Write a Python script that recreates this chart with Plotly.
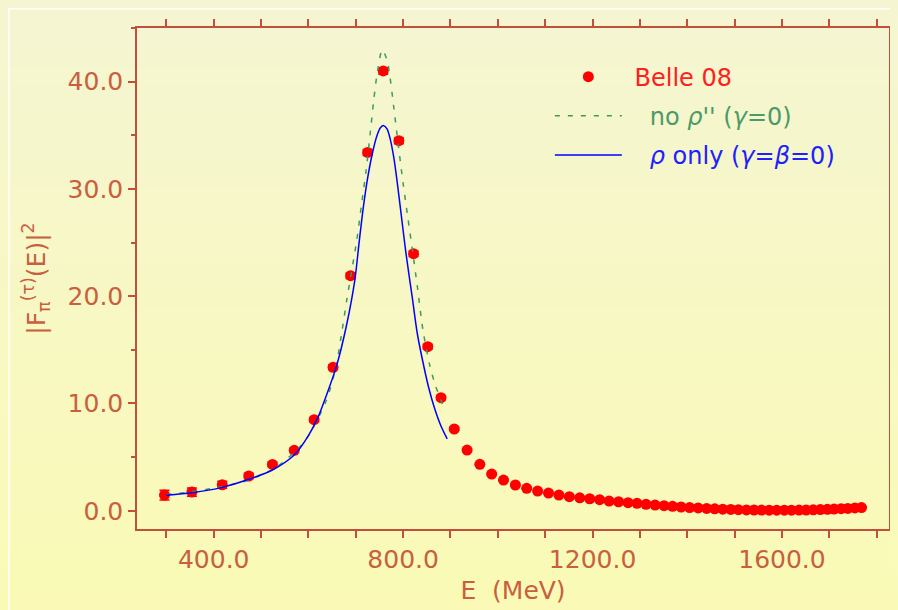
import plotly.graph_objects as go

# ---------------- data ----------------
belle_E = [296, 354, 418, 474, 524, 570, 612, 652, 689, 725, 758, 791, 822, 852,
           880, 908, 935, 962, 987, 1012, 1037, 1061, 1084, 1107, 1129, 1151, 1173,
           1194, 1215, 1235, 1255, 1275, 1294, 1313, 1332, 1351, 1369, 1387, 1405,
           1423, 1441, 1458, 1475, 1492, 1508, 1525, 1541, 1557, 1573, 1589, 1605,
           1620, 1636, 1651, 1666, 1681, 1696, 1710, 1725, 1739, 1754, 1768]
belle_F2 = [1.46, 1.74, 2.42, 3.24, 4.32, 5.63, 8.49, 13.37, 21.91, 33.4, 41.0, 34.5,
            23.96, 15.29, 10.54, 7.62, 5.66, 4.33, 3.42, 2.86, 2.40, 2.09, 1.84, 1.65,
            1.46, 1.31, 1.21, 1.12, 1.03, 0.90, 0.84, 0.75, 0.69, 0.60, 0.53, 0.47,
            0.41, 0.35, 0.30, 0.26, 0.22, 0.18, 0.15, 0.12, 0.10, 0.08, 0.07, 0.06,
            0.05, 0.05, 0.05, 0.05, 0.06, 0.07, 0.09, 0.11, 0.13, 0.16, 0.19, 0.22,
            0.26, 0.30]
belle_err = [0.45, 0.38, 0.32, 0.25, 0.2, 0.2, 0.2, 0.22, 0.25, 0.28, 0.3, 0.28, 0.25,
             0.22, 0.2, 0.15, 0.12, 0.1, 0.08, 0.07, 0.06, 0.05, 0.05, 0.05, 0.04,
             0.04, 0.04, 0.04, 0.03, 0.03, 0.03, 0.03, 0.03, 0.03, 0.03, 0.03, 0.03,
             0.03, 0.03, 0.03, 0.03, 0.03, 0.03, 0.03, 0.03, 0.03, 0.03, 0.03, 0.03,
             0.03, 0.03, 0.03, 0.03, 0.03, 0.03, 0.03, 0.03, 0.03, 0.03, 0.03, 0.03,
             0.03]

norho2_E = [300, 354, 418, 477, 533, 582, 603, 638, 658, 670, 681, 688, 702, 712,
            722, 730, 738, 746, 756, 766, 772, 780, 790, 800, 810, 820, 830, 842,
            856, 868, 880, 887]
norho2_F2 = [1.5, 1.78, 2.25, 2.9, 4.1, 5.97, 7.2, 10.3, 13.4, 16.5, 19.65, 21.5,
             25.2, 28.5, 31.8, 35.0, 38.3, 41.0, 42.96, 42.0, 40.5, 37.7, 34.0, 30.5,
             27.3, 24.2, 20.9, 16.8, 13.6, 11.7, 10.3, 9.4]

rhoonly_E = [300, 354, 418, 474, 524, 570, 600, 620, 640, 660, 680, 698, 707, 716,
             725, 735, 745, 752, 759, 766, 773, 780, 787, 794, 806, 820, 830, 844,
             855, 866, 879, 893]
rhoonly_F2 = [1.45, 1.68, 2.18, 2.93, 3.80, 5.19, 7.0, 8.7, 11.0, 13.6, 17.2, 21.5,
              25.0, 28.3, 31.0, 33.3, 35.0, 35.7, 35.9, 35.6, 34.6, 33.0, 30.8,
              28.3, 24.0, 19.65, 16.5, 13.4, 11.3, 9.6, 8.0, 6.7]

x_range = [238, 1826]
y_range = [-1.7, 45.0]

# ---------------- styling ----------------
AXC = "#c0503c"
TXC = "#c8603f"
FONT = "DejaVu Sans"

fig = go.Figure()

fig.add_trace(go.Scatter(
    x=belle_E, y=belle_F2, mode="markers",
    error_y=dict(type="data", array=belle_err, color="#ff0000", thickness=1.5, width=5),
    marker=dict(color="#ff0000", size=11),
    name="<span style='color:#ff2020'> Belle 08</span>",
    legendgroup="a",
))
fig.add_trace(go.Scatter(
    x=norho2_E, y=norho2_F2, mode="lines",
    line=dict(color="#3c9a60", width=1.5, dash="5px,8px", shape="spline", smoothing=0.8),
    name="<span style='color:#4a9a6a'>   no <i>ρ</i>'' (<i>γ</i>=0)</span>",
    legendgroup="b",
))
fig.add_trace(go.Scatter(
    x=rhoonly_E, y=rhoonly_F2, mode="lines",
    line=dict(color="#0000ff", width=1.5, shape="spline", smoothing=0.8),
    name="<span style='color:#2020ff'>   <i>ρ</i> only (<i>γ</i>=<i>β</i>=0)</span>",
    legendgroup="c",
))

# figure sits at an 8px page offset -> 890x602 figure fills the 898x610 window
W, H = 890, 602
ml, mr, mt, mb = 129, 9, 20, 81
pw, ph = W - ml - mr, H - mt - mb
TOP = (245, 245, 210)
BOT = (250, 250, 182)
shapes = []
nb = 40
for i in range(nb):
    f = i / (nb - 1)
    c = tuple(round(TOP[k] + (BOT[k] - TOP[k]) * f) for k in range(3))
    y1 = 1 + mt / ph - i * (H / ph) / nb
    y0 = y1 - (H / ph) / nb - 0.002
    shapes.append(dict(type="rect", xref="paper", yref="paper",
                       x0=-ml / pw - 0.01, x1=1 + mr / pw + 0.01, y0=y0, y1=y1,
                       fillcolor="rgb(%d,%d,%d)" % c, line=dict(width=0), layer="below"))
# white frame
shapes.append(dict(type="rect", xref="paper", yref="paper",
                   x0=(1 - ml) / pw, x1=1 + (mr + 20) / pw,
                   y0=-(mb + 20) / ph, y1=1 + (mt - 0.75) / ph,
                   line=dict(color="rgba(255,255,255,0.95)", width=1.5),
                   fillcolor="rgba(0,0,0,0)", layer="below"))

fig.update_layout(
    width=W, height=H,
    margin=dict(l=ml, r=mr, t=mt, b=mb, autoexpand=False),
    paper_bgcolor="#f7f7c8",
    plot_bgcolor="rgba(0,0,0,0)",
    shapes=shapes,
    font=dict(family=FONT, color=TXC),
    showlegend=True,
    legend=dict(x=0.549, y=0.947, xanchor="left", yanchor="top",
                bgcolor="rgba(0,0,0,0)", borderwidth=0,
                font=dict(family=FONT, size=24),
                itemwidth=67, tracegroupgap=5),
)

fig.update_xaxes(
    range=x_range, showgrid=False, zeroline=False,
    showline=True, linecolor=AXC, linewidth=1.5, mirror="ticks",
    ticks="outside", ticklen=7, tickwidth=1.5, tickcolor=AXC,
    tick0=0, dtick=400, tickformat=".1f",
    tickfont=dict(family=FONT, size=25, color=TXC),
    minor=dict(dtick=100, tick0=0, ticks="outside", ticklen=7, tickwidth=1.5, tickcolor=AXC),
    title=dict(text="E  (MeV)", font=dict(family=FONT, size=25, color=TXC), standoff=9),
)
fig.update_yaxes(
    range=y_range, showgrid=False, zeroline=False,
    showline=True, linecolor=AXC, linewidth=1.5, mirror="ticks",
    ticks="outside", ticklen=7, tickwidth=1.5, tickcolor=AXC,
    tick0=0, dtick=10, tickformat=".1f",
    tickfont=dict(family=FONT, size=25, color=TXC),
    minor=dict(dtick=5, tick0=0, ticks="outside", ticklen=4, tickwidth=1.5, tickcolor=AXC),
    title=dict(text="|F<sub>π</sub><sup>(τ)</sup>(E)|<sup>2</sup>",
               font=dict(family=FONT, size=25, color=TXC), standoff=15),
)

page_bg = ("document.documentElement.style.background="
           "'linear-gradient(rgb(245,245,210), rgb(250,250,182))';"
           "document.documentElement.style.minHeight='100%';"
           "document.body.style.background='transparent';")

fig.write_html("out.html", post_script=page_bg)
